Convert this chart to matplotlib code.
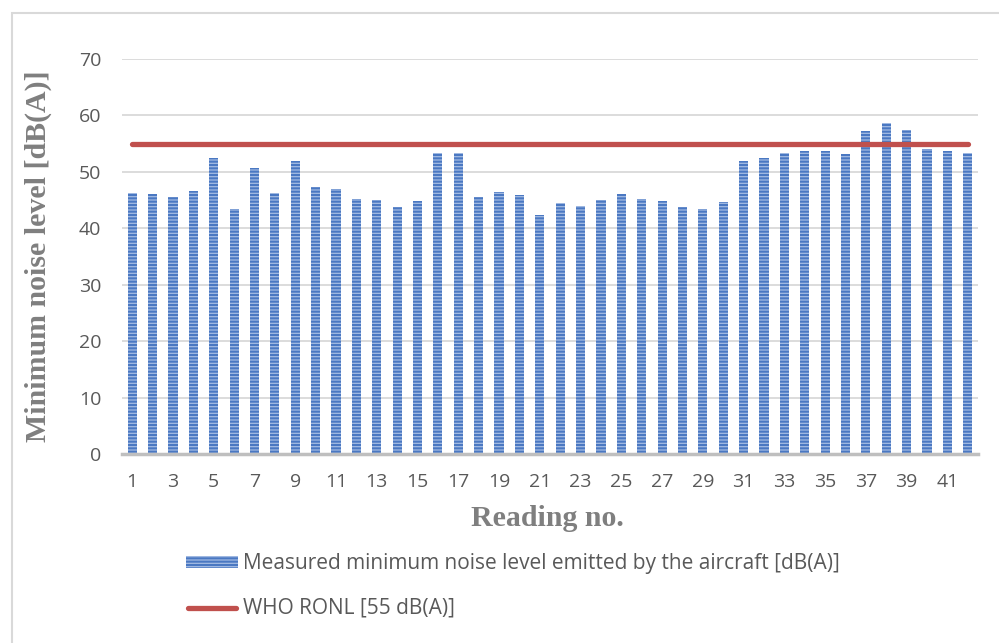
import matplotlib
matplotlib.use("Agg")
import matplotlib.pyplot as plt
from matplotlib.lines import Line2D
from matplotlib.patches import Rectangle
import numpy as np

plt.rcParams['hatch.linewidth'] = 1.5

readings = list(range(1, 43))
noise_min = [46.2, 46.1, 45.5, 46.6, 52.4, 43.5, 50.6, 46.2, 52.0, 47.4,
             47.0, 45.2, 45.1, 43.8, 44.9, 53.4, 53.3, 45.5, 46.4, 45.9,
             42.4, 44.4, 44.0, 45.0, 46.1, 45.2, 44.8, 43.8, 43.5, 44.7,
             52.0, 52.5, 53.3, 53.7, 53.7, 53.1, 57.3, 58.6, 57.4, 54.0,
             53.7, 53.3]
who_limit = [55] * len(readings)
xtick_labels = [str(i) for i in range(1, 43, 2)]
ytick_values = list(range(0, 71, 10))

W, H = 999, 643
fig = plt.figure(figsize=(W / 100, H / 100), dpi=100)
ax = fig.add_axes([122 / W, 1 - 454 / H, (978 - 122) / W, (454 - 59) / H])

tick_color = '#595959'
label_color = '#7f7f7f'

ax.bar(readings, noise_min, width=0.45, color='#A3BBE3', edgecolor='#4A78C2',
       hatch='-----', linewidth=0, zorder=2)
ax.plot(readings, who_limit, color='#C0504D', linewidth=3.8, solid_capstyle='round', zorder=3)

ax.set_xlim(0.5, 42.5)
ax.set_ylim(0, 70)
ax.set_yticks(ytick_values)
ax.set_xticks(list(range(1, 43, 2)))
ax.set_xticklabels(xtick_labels)
ax.grid(axis='y', color='#D9D9D9', linewidth=1.3, zorder=0)
ax.set_axisbelow(True)
for s in ['top', 'right', 'left']:
    ax.spines[s].set_visible(False)
ax.spines['bottom'].set_color('#BFBFBF')
ax.spines['bottom'].set_linewidth(2.5)
ax.tick_params(axis='both', length=0, labelsize=14, colors=tick_color)
ax.tick_params(axis='y', pad=15)
ax.tick_params(axis='x', pad=14)
for t in ax.get_xticklabels() + ax.get_yticklabels():
    t.set_fontfamily('Open Sans')

fig.text(38 / W, 1 - 256 / H, 'Minimum noise level [dB(A)]', rotation=90,
         ha='center', va='center', fontsize=21.5, fontweight='bold',
         family='Liberation Serif', color=label_color)
fig.text(547 / W, 1 - 518 / H, 'Reading no.', ha='center', va='center',
         fontsize=21.5, fontweight='bold', family='Liberation Serif', color=label_color)

# legend
fig.add_artist(Rectangle((186 / W, 1 - 568 / H), 52 / W, 12 / H, transform=fig.transFigure,
                         facecolor='#A3BBE3', edgecolor='#4A78C2', hatch='-----', linewidth=0))
fig.text(243 / W, 1 - 563 / H, 'Measured minimum noise level emitted by the aircraft [dB(A)]',
         ha='left', va='center', fontsize=15, family='Open Sans', color=tick_color)
fig.add_artist(Line2D([188 / W, 236 / W], [1 - 608 / H, 1 - 608 / H], transform=fig.transFigure,
                      color='#C0504D', linewidth=3.8, solid_capstyle='round'))
fig.text(243 / W, 1 - 608 / H, 'WHO RONL [55 dB(A)]', ha='left', va='center',
         fontsize=15, family='Open Sans', color=tick_color)

# chart border
fig.add_artist(Rectangle((12 / W, -0.05), 1.2, 1 - 13 / H + 0.05, transform=fig.transFigure,
                         facecolor='none', edgecolor='#D9D9D9', linewidth=1.5))

fig.savefig('out.png', dpi=100)
